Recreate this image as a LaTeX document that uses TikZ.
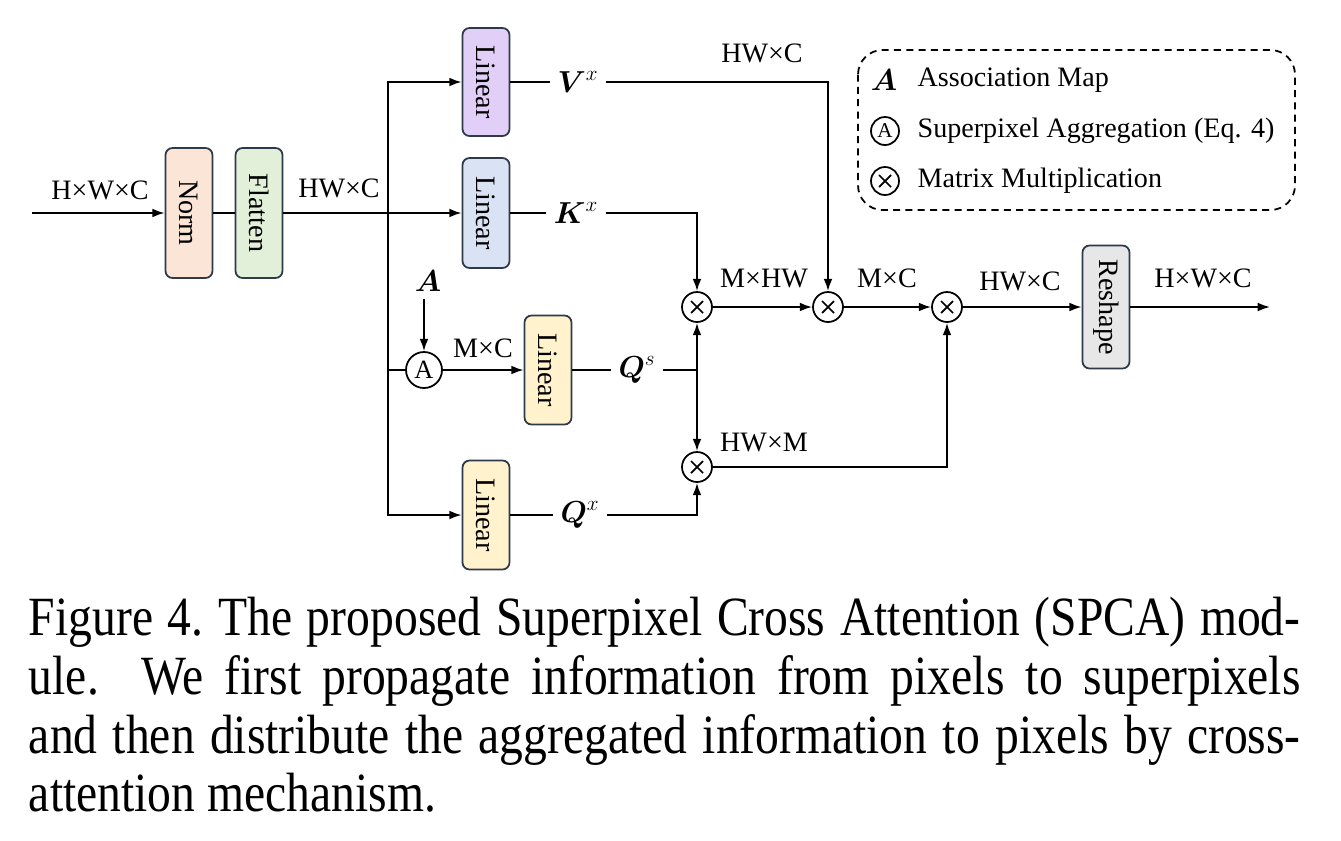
\documentclass[tikz,border=0pt]{standalone}
\usepackage{amsmath}
\usepackage{fontspec}
\setmainfont{Liberation Serif}
\newfontfamily\capfont[FakeStretch=0.86]{Liberation Serif}
\usetikzlibrary{positioning,arrows.meta}

\definecolor{bordo}{HTML}{2E3A4A}
\definecolor{normc}{HTML}{FBE5D6}
\definecolor{flatc}{HTML}{E2F0D9}
\definecolor{vc}{HTML}{E2CFF7}
\definecolor{kc}{HTML}{DAE3F3}
\definecolor{qc}{HTML}{FFF2CC}
\definecolor{rc}{HTML}{E7E7E7}

\tikzset{
  blocco/.style={draw=bordo, line width=1pt, rounded corners=4pt, minimum width=0.94cm,
    inner sep=0pt, font=\fontsize{16}{19}\selectfont},
  etich/.style={font=\fontsize{16}{19}\selectfont, inner sep=1pt},
  simbolo/.style={font=\fontsize{17}{20}\selectfont, inner sep=4pt},
  agg/.style={circle, draw, line width=1pt, minimum size=0.72cm, inner sep=0pt,
    font=\fontsize{15}{18}\selectfont},
  mul/.style={circle, draw, line width=1pt, minimum size=0.6cm, inner sep=0pt,
    path picture={
      \draw[line width=1pt] ([shift={(-0.12cm,-0.12cm)}]path picture bounding box.center)
        -- ([shift={(0.12cm,0.12cm)}]path picture bounding box.center);
      \draw[line width=1pt] ([shift={(-0.12cm,0.12cm)}]path picture bounding box.center)
        -- ([shift={(0.12cm,-0.12cm)}]path picture bounding box.center);}},
}

\begin{document}
\begin{tikzpicture}[x=0.02cm, y=-0.02cm, line width=1pt, >={Latex[length=7pt,width=5pt]}]
  \useasboundingbox (0,0) rectangle (1341,840);

  % Ingresso, Norm e Flatten
  \coordinate (in) at (32,213);
  \node[blocco, fill=normc, minimum height=2.6cm] (norm) at (189,213) {\rotatebox{-90}{Norm}};
  \node[blocco, fill=flatc, minimum height=2.6cm] (flat) at (259,213) {\rotatebox{-90}{Flatten}};
  \draw[->] (in) -- (norm);
  \draw (norm) -- (flat);
  \node[etich] (din) at (100,190) {H×W×C};

  % Tronco e rami lineari
  \coordinate (tr) at (388,213);
  \coordinate (trA) at (388,370);
  \draw (flat) -- (tr);
  \node[etich] (dflat) at (339,188) {HW×C};
  \node[blocco, fill=vc, minimum height=2.16cm] (linV) at (486,82) {\rotatebox{-90}{Linear}};
  \node[blocco, fill=kc, minimum height=2.2cm] (linK) at (486,213) {\rotatebox{-90}{Linear}};
  \node[blocco, fill=qc, minimum height=2.18cm] (linQs) at (548,370) {\rotatebox{-90}{Linear}};
  \node[blocco, fill=qc, minimum height=2.18cm] (linQx) at (486,515) {\rotatebox{-90}{Linear}};
  \draw[->] (tr) |- (linV);
  \draw[->] (tr) -- (linK);
  \draw[->] (tr) |- (linQx);

  % Aggregazione superpixel
  \node[agg] (agg) at (424,370) {A};
  \node[simbolo] (mapA) at (428,281) {$\boldsymbol{A}$};
  \draw[->] (mapA.south -| agg) -- (agg);
  \draw (trA) -- (agg);
  \draw[->] (agg) -- (linQs);
  \node[etich] (dagg) at (483,348) {M×C};

  % Moltiplicazioni
  \node[mul] (m1) at (697,307) {};
  \node[mul] (m2) at (828,307) {};
  \node[mul] (m3) at (947,307) {};
  \node[mul] (m4) at (697,467) {};

  % V, K, Q
  \node[simbolo] (V) at (578,82) {$\boldsymbol{V}^{x}$};
  \node[simbolo] (K) at (576,213) {$\boldsymbol{K}^{x}$};
  \node[simbolo] (Qs) at (637,370) {$\boldsymbol{Q}^{s}$};
  \node[simbolo] (Qx) at (580,515) {$\boldsymbol{Q}^{x}$};
  \coordinate (jq) at (697,370);
  \draw (linV) -- (V);
  \draw[->] (V) -| (m2);
  \node[etich] (dV) at (762,53) {HW×C};
  \draw (linK) -- (K);
  \draw[->] (K) -| (m1);
  \draw (linQs) -- (Qs);
  \draw (Qs) -- (jq);
  \draw[->] (jq) -- (m1);
  \draw[->] (jq) -- (m4);
  \draw (linQx) -- (Qx);
  \draw[->] (Qx) -| (m4);

  % Uscita
  \node[blocco, fill=rc, minimum height=2.46cm] (resh) at (1106,307) {\rotatebox{-90}{Reshape}};
  \coordinate (out) at (1270,307);
  \draw[->] (m1) -- (m2);
  \node[etich] (d12) at (764,278) {M×HW};
  \draw[->] (m2) -- (m3);
  \node[etich] (d23) at (887,278) {M×C};
  \draw[->] (m4) -| (m3);
  \node[etich] (d43) at (764,442) {HW×M};
  \draw[->] (m3) -- (resh);
  \node[etich] (d3r) at (1020,281) {HW×C};
  \draw[->] (resh) -- (out);
  \node[etich] (dout) at (1203,278) {H×W×C};

  % Legenda
  \draw[dash pattern=on 4pt off 3pt, rounded corners=14pt] (858,50) rectangle (1295,210);
  \node[simbolo] (legA) at (884,80) {$\boldsymbol{A}$};
  \node[etich, anchor=west] (legAt) at (915,80) {Association Map};
  \node[agg, minimum size=0.56cm, font=\fontsize{12}{14}\selectfont] (legAgg) at (885,131) {A};
  \node[etich, anchor=west] (legAggt) at (915,131) {Superpixel Aggregation (Eq. 4)};
  \node[mul, minimum size=0.56cm] (legMul) at (885,181) {};
  \node[etich, anchor=west] (legMult) at (915,181) {Matrix Multiplication};

  % Didascalia
  \node[anchor=north west, text width=25.44cm, align=justify, inner sep=0pt,
    font=\capfont\fontsize{31.5}{33.5}\selectfont] (cap) at (28,596) {%
    \frenchspacing\hyphenpenalty=10000\relax
    Figure 4. The proposed Superpixel Cross Attention (SPCA) mod-\linebreak
    ule.\ \ We first propagate information from pixels to superpixels\linebreak
    and then distribute the aggregated information to pixels by cross-\linebreak
    attention mechanism.};
\end{tikzpicture}
\end{document}
